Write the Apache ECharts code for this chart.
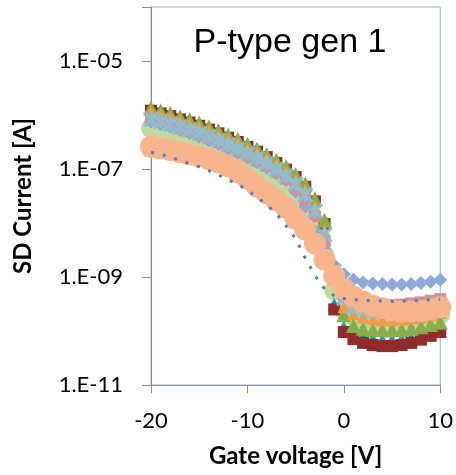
<!DOCTYPE html>
<html><head><meta charset="utf-8">
<script src="https://cdn.jsdelivr.net/npm/echarts@6/dist/echarts.min.js"></script>
<style>html,body{margin:0;padding:0;background:#fff}#c{width:456px;height:475px}</style>
</head><body><div id="c"></div>
<script>
// Gate voltage sweep [V]
const gateVoltage = [-20,-19,-18,-17,-16,-15,-14,-13,-12,-11,-10,-9,-8,-7,-6,-5,-4,-3,-2,-1,0,1,2,3,4,5,6,7,8,9,10];

// SD current [A] per device
const devDarkRed = [1.20e-6,1.07e-6,9.55e-7,8.32e-7,7.24e-7,6.31e-7,5.37e-7,4.57e-7,3.80e-7,3.16e-7,2.57e-7,2.09e-7,1.66e-7,1.29e-7,9.77e-8,7.08e-8,4.68e-8,2.51e-8,9.55e-9,2.51e-10,9.55e-11,7.08e-11,6.03e-11,5.50e-11,5.25e-11,5.25e-11,5.50e-11,6.03e-11,6.92e-11,8.13e-11,9.55e-11];
const devOlive = [1.35e-6,1.20e-6,1.07e-6,9.33e-7,8.13e-7,7.08e-7,6.03e-7,5.13e-7,4.27e-7,3.55e-7,2.88e-7,2.34e-7,1.86e-7,1.45e-7,1.10e-7,7.94e-8,5.25e-8,2.82e-8,1.12e-8,1.58e-9,2.00e-10,1.26e-10,1.12e-10,1.07e-10,1.05e-10,1.05e-10,1.07e-10,1.12e-10,1.20e-10,1.32e-10,1.45e-10];
const devOrange = [1.12e-6,1.00e-6,8.91e-7,7.76e-7,6.76e-7,5.89e-7,5.01e-7,4.27e-7,3.55e-7,2.95e-7,2.40e-7,1.95e-7,1.55e-7,1.20e-7,8.91e-8,6.31e-8,3.98e-8,2.00e-8,7.08e-9,1.00e-9,2.82e-10,2.09e-10,1.82e-10,1.70e-10,1.62e-10,1.62e-10,1.66e-10,1.74e-10,1.86e-10,2.00e-10,2.19e-10];
const devTeal = [9.55e-7,8.51e-7,7.59e-7,6.61e-7,5.75e-7,5.01e-7,4.27e-7,3.63e-7,3.02e-7,2.51e-7,2.04e-7,1.66e-7,1.32e-7,1.02e-7,7.59e-8,5.25e-8,3.16e-8,1.51e-8,5.01e-9,3.16e-10,1.20e-10,8.91e-11,7.76e-11,7.24e-11,6.92e-11,6.92e-11,7.08e-11,7.59e-11,8.32e-11,9.12e-11,1.00e-10];
const devMauve = [8.32e-7,7.41e-7,6.61e-7,5.75e-7,5.01e-7,4.37e-7,3.72e-7,3.16e-7,2.63e-7,2.19e-7,1.78e-7,1.45e-7,1.15e-7,8.91e-8,6.61e-8,4.57e-8,2.75e-8,1.32e-8,4.47e-9,8.91e-10,4.47e-10,3.55e-10,3.24e-10,3.09e-10,3.02e-10,3.02e-10,3.09e-10,3.24e-10,3.39e-10,3.63e-10,3.89e-10];
const devLightGreen = [5.62e-7,5.01e-7,4.47e-7,3.89e-7,3.39e-7,2.95e-7,2.51e-7,2.14e-7,1.78e-7,1.48e-7,1.20e-7,9.77e-8,7.76e-8,6.03e-8,4.47e-8,3.02e-8,1.78e-8,7.94e-9,2.51e-9,5.62e-10,2.51e-10,1.91e-10,1.66e-10,1.55e-10,1.48e-10,1.48e-10,1.51e-10,1.58e-10,1.70e-10,1.82e-10,2.00e-10];
const devLightBlue = [8.32e-7,7.59e-7,6.76e-7,6.03e-7,5.25e-7,4.57e-7,3.98e-7,3.39e-7,2.82e-7,2.34e-7,1.95e-7,1.58e-7,1.26e-7,9.77e-8,7.41e-8,5.25e-8,3.31e-8,1.66e-8,6.03e-9,1.26e-9,3.98e-10,2.82e-10,2.51e-10,2.34e-10,2.29e-10,2.29e-10,2.34e-10,2.45e-10,2.63e-10,2.82e-10,3.02e-10];
const devDiamond = [7.59e-7,6.76e-7,6.03e-7,5.25e-7,4.57e-7,3.98e-7,3.39e-7,2.88e-7,2.40e-7,2.00e-7,1.62e-7,1.32e-7,1.05e-7,8.13e-8,6.17e-8,3.80e-8,2.00e-8,7.08e-9,3.16e-9,1.66e-9,1.12e-9,8.91e-10,7.94e-10,7.59e-10,7.41e-10,7.24e-10,7.24e-10,7.41e-10,7.76e-10,8.13e-10,8.91e-10];
const devDashed = [2.04e-7,1.86e-7,1.66e-7,1.45e-7,1.26e-7,1.10e-7,9.33e-8,7.76e-8,6.31e-8,5.25e-8,4.07e-8,3.02e-8,2.19e-8,1.48e-8,8.91e-9,5.13e-9,2.24e-9,1.07e-9,6.03e-10,4.47e-10,3.98e-10,3.80e-10,3.72e-10,3.63e-10,3.63e-10,3.55e-10,3.55e-10,3.63e-10,3.72e-10,3.80e-10,3.89e-10];
const devSalmon = [2.57e-7,2.40e-7,2.24e-7,2.04e-7,1.86e-7,1.70e-7,1.51e-7,1.32e-7,1.12e-7,8.71e-8,6.61e-8,4.68e-8,3.55e-8,2.63e-8,1.91e-8,1.20e-8,7.59e-9,4.17e-9,2.09e-9,1.05e-9,6.03e-10,4.37e-10,3.47e-10,2.95e-10,2.63e-10,2.40e-10,2.29e-10,2.29e-10,2.34e-10,2.51e-10,2.75e-10];

// Axis ticks and labels
const xTicks = [-20, -10, 0, 10];
const yTickValues = [1e-11, 1e-9, 1e-7, 1e-5];
const yTickLabels = ['1.E-11', '1.E-09', '1.E-07', '1.E-05'];
const titleText = 'P-type gen 1';

function pairs(arr) { return gateVoltage.map((v, i) => [v, arr[i]]); }

const asterisk = 'path://M0 0L12 12M12 0L0 12M6 0L6 12';

function markerSeries(data, symbol, size, color, extra) {
  return Object.assign({
    type: 'scatter', data: pairs(data), symbol: symbol, symbolSize: size,
    itemStyle: { color: color, opacity: 1 }, silent: true, clip: false
  }, extra || {});
}

const chart = echarts.init(document.getElementById('c'), null, { renderer: 'canvas' });
chart.setOption({
  animation: false,
  backgroundColor: '#fff',
  grid: { left: 151, right: 15, top: 7, bottom: 90, show: true, borderColor: '#95B3D7', borderWidth: 1, backgroundColor: 'transparent' },
  xAxis: {
    type: 'value', min: -20, max: 10, interval: 10,
    name: 'Gate voltage [V]', nameLocation: 'middle', nameGap: 59,
    nameTextStyle: { fontFamily: 'Lato', fontWeight: 'bold', fontSize: 24, color: '#000' },
    axisLine: { show: true, onZero: false, lineStyle: { color: '#8C8C8C', width: 1 } },
    axisTick: { show: true, inside: false, length: 8, lineStyle: { color: '#8C8C8C' } },
    axisLabel: { fontFamily: 'Lato', fontSize: 22, color: '#000', margin: 25,
      formatter: v => (xTicks.indexOf(v) >= 0 ? String(v) : '') },
    splitLine: { show: false }
  },
  yAxis: {
    type: 'log', logBase: 10, min: 1e-11, max: 1e-4, interval: 2,
    name: 'SD Current [A]', nameLocation: 'middle', nameGap: 116,
    nameTextStyle: { fontFamily: 'Lato', fontWeight: 'bold', fontSize: 24, color: '#000' },
    axisLine: { show: true, onZero: false, lineStyle: { color: '#8C8C8C', width: 1 } },
    axisTick: { show: true, inside: false, length: 9, lineStyle: { color: '#8C8C8C' } },
    axisLabel: { fontFamily: 'Lato', fontSize: 22, color: '#000', margin: 28,
      formatter: v => {
        for (let i = 0; i < yTickValues.length; i++) {
          if (Math.abs(Math.log10(v) - Math.log10(yTickValues[i])) < 0.01) return yTickLabels[i];
        }
        return '';
      } },
    splitLine: { show: false }
  },
  graphic: [{
    type: 'text', x: 290, y: 43, z: 100,
    style: { text: titleText, font: '34px "Liberation Sans", Arial, sans-serif', fill: '#000', align: 'center', verticalAlign: 'middle' }
  }],
  series: [
    markerSeries(devLightGreen, 'circle', 20, '#C4D89C'),
    markerSeries(devDiamond, 'diamond', 14, '#8EA8DA'),
    markerSeries(devTeal, 'triangle', 13, '#2F93B0'),
    markerSeries(devDarkRed, 'rect', 12, '#8F2B2B'),
    markerSeries(devOlive, 'triangle', 15, '#88AD4B'),
    markerSeries(devOrange, 'triangle', 13, '#F39A48'),
    markerSeries(devMauve, 'rect', 12, '#D59190'),
    markerSeries(devLightBlue, asterisk, 14, 'rgba(0,0,0,0)', { itemStyle: { color: 'rgba(0,0,0,0)', borderColor: '#82C4DC', borderWidth: 3.5 } }),
    { type: 'line', data: pairs(devDashed), symbol: 'none', silent: true, clip: false,
      lineStyle: { color: '#4A7FC1', width: 3, type: [3, 9], cap: 'butt' } },
    markerSeries(devSalmon, 'circle', 22, '#F8B48C')
  ]
});
</script>
</body></html>
